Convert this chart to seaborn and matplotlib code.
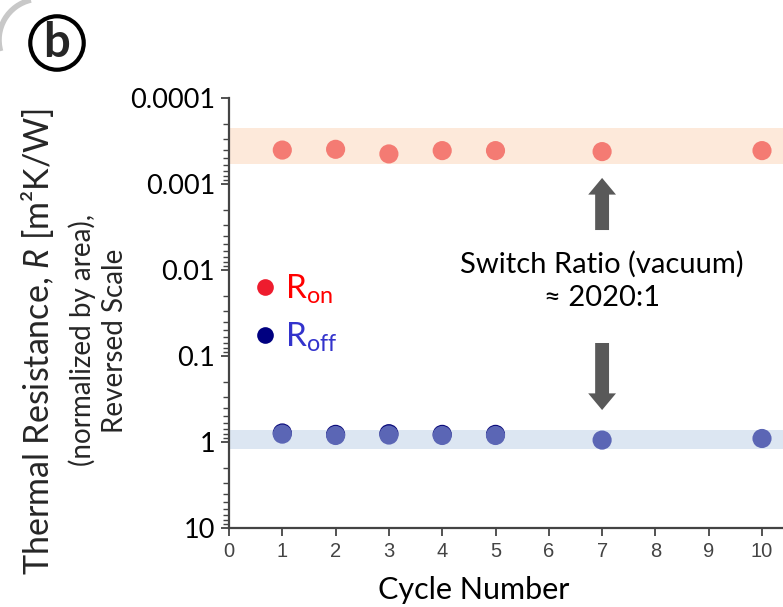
import numpy as np
import pandas as pd
import matplotlib
matplotlib.use("Agg")
import matplotlib.pyplot as plt
import seaborn as sns
from matplotlib.lines import Line2D
from matplotlib.patches import FancyArrowPatch, ArrowStyle, Arc

# ---------------- data ----------------
cycles = [1, 2, 3, 4, 5, 7, 10]
r_on = [0.000403, 0.000395, 0.000447, 0.000409, 0.000409, 0.00042, 0.000409]
r_off = [0.81, 0.84, 0.83, 0.84, 0.84, 0.95, 0.91]
r_off_dark_cycles = [1, 2, 3, 4, 5]
r_off_dark = [0.785, 0.815, 0.80, 0.815, 0.815]
on_band = (0.000225, 0.000589)
off_band = (0.72, 1.22)
x_ticks = [0, 1, 2, 3, 4, 5, 6, 7, 8, 9, 10]
y_ticks = [0.0001, 0.001, 0.01, 0.1, 1, 10]
y_tick_labels = ["0.0001", "0.001", "0.01", "0.1", "1", "10"]
arrow_x = 7
arrow_up = (0.00343, 0.00085)
arrow_down = (0.0706, 0.425)
ratio_text = "Switch Ratio (vacuum)\n\u2248 2020:1"
ratio_y = 0.0134

sns.set_theme(style="white")
plt.rcParams["font.family"] = ["Lato", "DejaVu Sans"]
plt.rcParams["mathtext.fontset"] = "custom"
plt.rcParams["mathtext.rm"] = "Lato"
plt.rcParams["mathtext.it"] = "Lato:italic"

W, H = 783, 607
fig = plt.figure(figsize=(W / 100, H / 100), dpi=100)
ax = fig.add_axes([229 / W, 1 - 528 / H, (W - 229) / W, (528 - 98) / H])

ax.axhspan(*on_band, color="#FDE9DA", lw=0, zorder=0)
ax.axhspan(*off_band, color="#DCE6F2", lw=0, zorder=0)

df_on = pd.DataFrame({"cycle": cycles, "R": r_on})
df_off = pd.DataFrame({"cycle": cycles, "R": r_off})
df_dark = pd.DataFrame({"cycle": r_off_dark_cycles, "R": r_off_dark})

ms = 190
sns.scatterplot(data=df_on, x="cycle", y="R", ax=ax, color="#F47B73", s=ms,
                edgecolor="none", zorder=3)
sns.scatterplot(data=df_dark, x="cycle", y="R", ax=ax, color="#0A0A7A", s=ms,
                edgecolor="none", zorder=3)
sns.scatterplot(data=df_off, x="cycle", y="R", ax=ax, color="#5B66B5", s=ms,
                edgecolor="none", zorder=4)

ax.set_yscale("log")
ax.set_ylim(10, 0.0001)
ax.set_xlim(0, (W - 229) / 53.3)

ax.set_yticks(y_ticks)
ax.set_yticklabels(y_tick_labels, fontsize=19.5, color="black")
ax.set_xticks(x_ticks)
ax.set_xticklabels([str(t) for t in x_ticks], fontsize=14.5, color="#444444",
                   family=["Liberation Sans"])
ax.yaxis.set_minor_locator(matplotlib.ticker.LogLocator(base=10, subs=np.arange(2, 10), numticks=20))
ax.yaxis.set_minor_formatter(matplotlib.ticker.NullFormatter())
ax.tick_params(axis="y", which="major", direction="out", length=6, width=1.3,
               color="#444444", pad=4, left=True)
ax.tick_params(axis="y", which="minor", direction="out", length=4, width=1.0,
               color="#444444", left=True)
ax.tick_params(axis="x", which="major", direction="out", length=6, width=1.3,
               color="#444444", pad=4, bottom=True)

for s in ["top", "right"]:
    ax.spines[s].set_visible(False)
for s in ["left", "bottom"]:
    ax.spines[s].set_color("#444444")
    ax.spines[s].set_linewidth(1.6)

ax.set_xlabel("Cycle Number", fontsize=22, color="black")
ax.xaxis.set_label_coords((474 - 229) / (W - 229), -0.112)
ax.set_ylabel("")

# arrows
style = ArrowStyle.Simple(head_length=0.6, head_width=1.0, tail_width=0.5)
for (y0, y1) in (arrow_up, arrow_down):
    ax.add_patch(FancyArrowPatch((arrow_x, y0), (arrow_x, y1), arrowstyle=style,
                                 mutation_scale=20, color="#595959", lw=0,
                                 shrinkA=0, shrinkB=0, zorder=5))
ax.text(arrow_x, ratio_y, ratio_text, ha="center", va="center", fontsize=21,
        linespacing=1.3, color="black")

# legend
handles = [Line2D([], [], ls="none", marker="o", ms=12, color="#EE1C2E", mec="none"),
           Line2D([], [], ls="none", marker="o", ms=12, color="#000080", mec="none")]
leg = fig.legend(handles, ["R$_{\\mathrm{on}}$", "R$_{\\mathrm{off}}$"],
                 loc="center left", bbox_to_anchor=(250 / W, 1 - 313 / H),
                 bbox_transform=fig.transFigure, frameon=False, fontsize=24,
                 handletextpad=0.15, labelspacing=0.45, handlelength=0.9,
                 borderpad=0, borderaxespad=0,
                 labelcolor=["#FF0000", "#3333CC"])

# y label lines
fig.text(38 / W, 1 - 341 / H, "Thermal Resistance, $\\mathit{R}$ [m\u00b2K/W]",
         rotation=90, ha="center", va="center", fontsize=24.5)
fig.text(82 / W, 1 - 340 / H, "(normalized by area),", rotation=90,
         ha="center", va="center", fontsize=20)
fig.text(115 / W, 1 - 341 / H, "Reversed Scale", rotation=90,
         ha="center", va="center", fontsize=20)

# panel letter
fig.text(57 / W, 1 - 43 / H, "b", ha="center", va="center", fontsize=34,
         fontweight="bold",
         bbox=dict(boxstyle="circle,pad=0.1", fc="white", ec="black", lw=3))
fig.add_artist(Arc((40 / W, 1 - 40 / H), 82 / W, 82 / H, theta1=100, theta2=200,
                   transform=fig.transFigure, color="#C8C8C8", lw=4))

fig.savefig("out.png", dpi=100)
